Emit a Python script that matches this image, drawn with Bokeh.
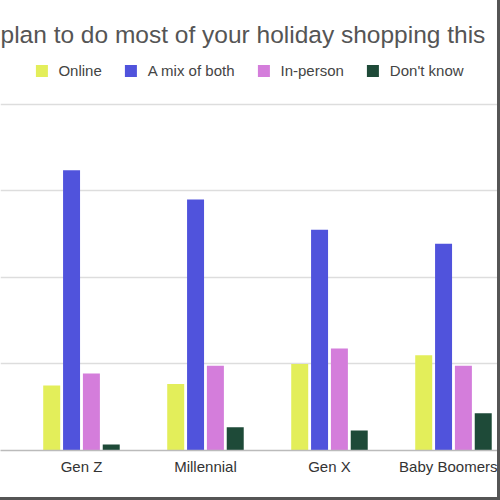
from bokeh.plotting import figure
from bokeh.models import ColumnDataSource, Range1d, FixedTicker, Legend, LegendItem, Title
from bokeh.transform import dodge
from bokeh.embed import file_html
from bokeh.resources import INLINE

categories = ["Gen Z", "Millennial", "Gen X", "Baby Boomers"]
series = ["Online", "A mix of both", "In-person", "Don't know"]
online = [7.5, 7.7, 10.0, 11.0]
mix = [32.4, 29.0, 25.5, 23.9]
in_person = [8.9, 9.8, 11.8, 9.8]
dont_know = [0.7, 2.7, 2.3, 4.3]
colors = ["#e3ee5a", "#5053dc", "#d47ddb", "#1e4a38"]
title_text = "plan to do most of your holiday shopping this"

idx = list(range(len(categories)))
src = ColumnDataSource(dict(x=idx, online=online, mix=mix, in_person=in_person, dont_know=dont_know))

p = figure(frame_width=497, frame_height=398, output_backend="svg", toolbar_location=None,
           x_range=Range1d(-0.653, 3.355), y_range=Range1d(0, 46.0),
           min_border_left=0, min_border_right=0, min_border_top=52, min_border_bottom=47)
p.styles = {"border-right": "3px solid #555555", "border-bottom": "3px solid #555555"}

cols = ["online", "mix", "in_person", "dont_know"]
offsets = [-0.24, -0.08, 0.08, 0.24]
renderers = []
for c, off, col in zip(cols, offsets, colors):
    r = p.vbar(x=dodge("x", off), top=c, width=0.137, source=src, fill_color=col, line_color=None)
    renderers.append(r)

legend = Legend(items=[LegendItem(label=s, renderers=[r]) for s, r in zip(series, renderers)],
                orientation="horizontal", location="top_center",
                glyph_width=15, glyph_height=15, label_standoff=10, spacing=21,
                label_text_font="Liberation Sans", label_text_font_size="15px",
                label_text_color="#444444", border_line_color=None,
                background_fill_alpha=0, padding=2, margin=10)
p.add_layout(legend, "center")

t = Title(text=title_text, align="left", offset=0, text_font="Liberation Sans",
          text_font_size="24.5px", text_font_style="normal", text_color="#555555")
p.add_layout(t, "above")

p.yaxis.visible = False
p.ygrid.ticker = FixedTicker(ticks=[0, 10, 20, 30, 40])
p.ygrid.grid_line_color = "#dddddd"
p.ygrid.grid_line_width = 1.5
p.xgrid.visible = False
p.outline_line_color = None

p.xaxis.ticker = FixedTicker(ticks=idx)
p.xaxis.major_label_overrides = {i: c for i, c in zip(idx, categories)}
p.xaxis.major_label_text_font = "Liberation Sans"
p.xaxis.major_label_text_font_size = "15px"
p.xaxis.major_label_text_color = "#333333"
p.xaxis.axis_line_color = "#bbbbbb"
p.xaxis.axis_line_width = 1.5
p.xaxis.major_tick_line_color = None
p.xaxis.minor_tick_line_color = None
p.xaxis.major_tick_out = 0
p.xaxis.major_label_standoff = 7

open("out.html", "w").write(file_html(p, INLINE))
